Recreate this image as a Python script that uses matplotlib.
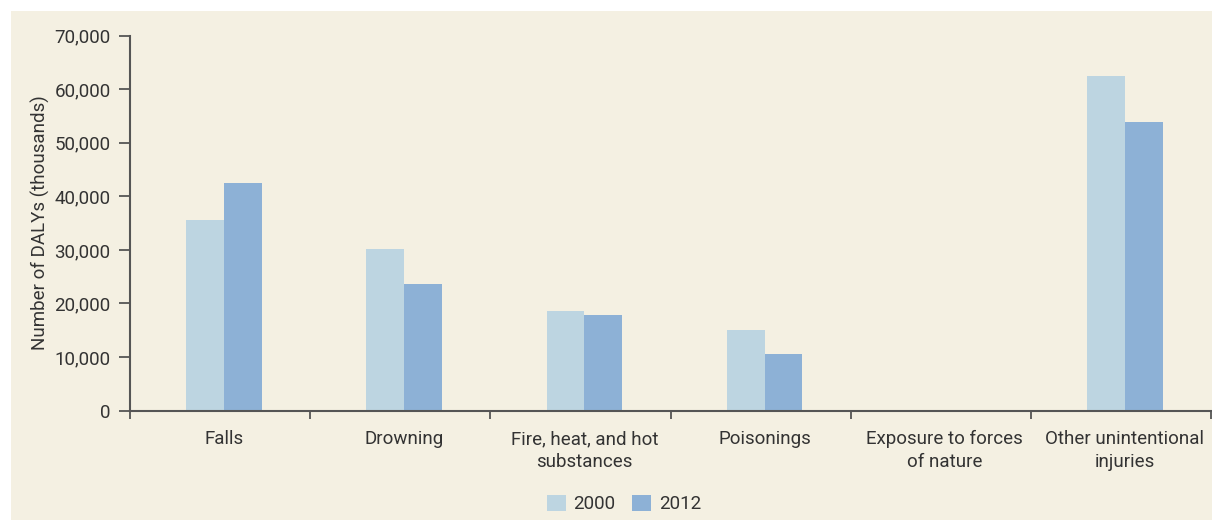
import matplotlib
matplotlib.use("Agg")
import matplotlib.pyplot as plt
import numpy as np
from matplotlib.patches import Rectangle
from matplotlib.ticker import FuncFormatter

plt.rcParams["font.family"] = ["Roboto", "DejaVu Sans"]

categories = [
    "Falls",
    "Drowning",
    "Fire, heat, and hot\nsubstances",
    "Poisonings",
    "Exposure to forces\nof nature",
    "Other unintentional\ninjuries",
]
dalys_2000 = [35600, 30200, 18600, 15000, 0, 62500]
dalys_2012 = [42500, 23600, 17900, 10500, 0, 53900]
series_labels = ["2000", "2012"]

BG = "#f4f0e2"
TEXT = "#333333"
AXIS = "#555555"
C2000 = "#bdd5e1"
C2012 = "#8db1d6"
FS = 13.5

fig = plt.figure(figsize=(12.12, 5.2), dpi=100, facecolor="white")
fig.patches.append(Rectangle((11 / 1212, 0), 1 - 11 / 1212, 1 - 11 / 520,
                             transform=fig.transFigure, facecolor=BG,
                             edgecolor="none", zorder=-10))
ax = fig.add_axes([130 / 1212, 109.5 / 520, 1081 / 1212, 374.8 / 520])
ax.set_facecolor("none")

x = np.arange(len(categories))
w = 0.21
shift = 0.022  # bars sit a touch right of the category centre in the original
ax.bar(x + shift - w / 2, dalys_2000, w, color=C2000, label=series_labels[0], zorder=2)
ax.bar(x + shift + w / 2, dalys_2012, w, color=C2012, label=series_labels[1], zorder=2)

ax.set_xlim(-0.5, len(categories) - 0.5)
ax.set_ylim(0, 70000)
ax.set_yticks(range(0, 70001, 10000))
ax.yaxis.set_major_formatter(FuncFormatter(lambda v, p: f"{int(v):,}"))

ax.set_xticks(x + shift)
ax.set_xticklabels(categories, fontsize=FS, color=TEXT, linespacing=1.35)
ax.set_xticks(np.arange(-0.5, len(categories)), minor=True)
ax.tick_params(axis="x", which="major", length=0, pad=14)
ax.tick_params(axis="x", which="minor", length=6, width=1.3, color=AXIS,
               direction="out")
ax.tick_params(axis="y", length=8, width=1.3, color=AXIS, labelsize=FS,
               labelcolor=TEXT, pad=6)

for s in ["top", "right"]:
    ax.spines[s].set_visible(False)
for s in ["left", "bottom"]:
    ax.spines[s].set_color(AXIS)
    ax.spines[s].set_linewidth(1.5)

ax.set_ylabel("Number of DALYs (thousands)", fontsize=FS, color=TEXT,
              labelpad=3)

fig.legend(loc="center", bbox_to_anchor=(624 / 1212, 1 - 504 / 520),
           ncol=2, frameon=False, fontsize=FS, handlelength=1.0,
           handleheight=1.0, handletextpad=0.4, columnspacing=0.9,
           labelcolor=TEXT)

fig.savefig("out.png", dpi=100, facecolor="white")
